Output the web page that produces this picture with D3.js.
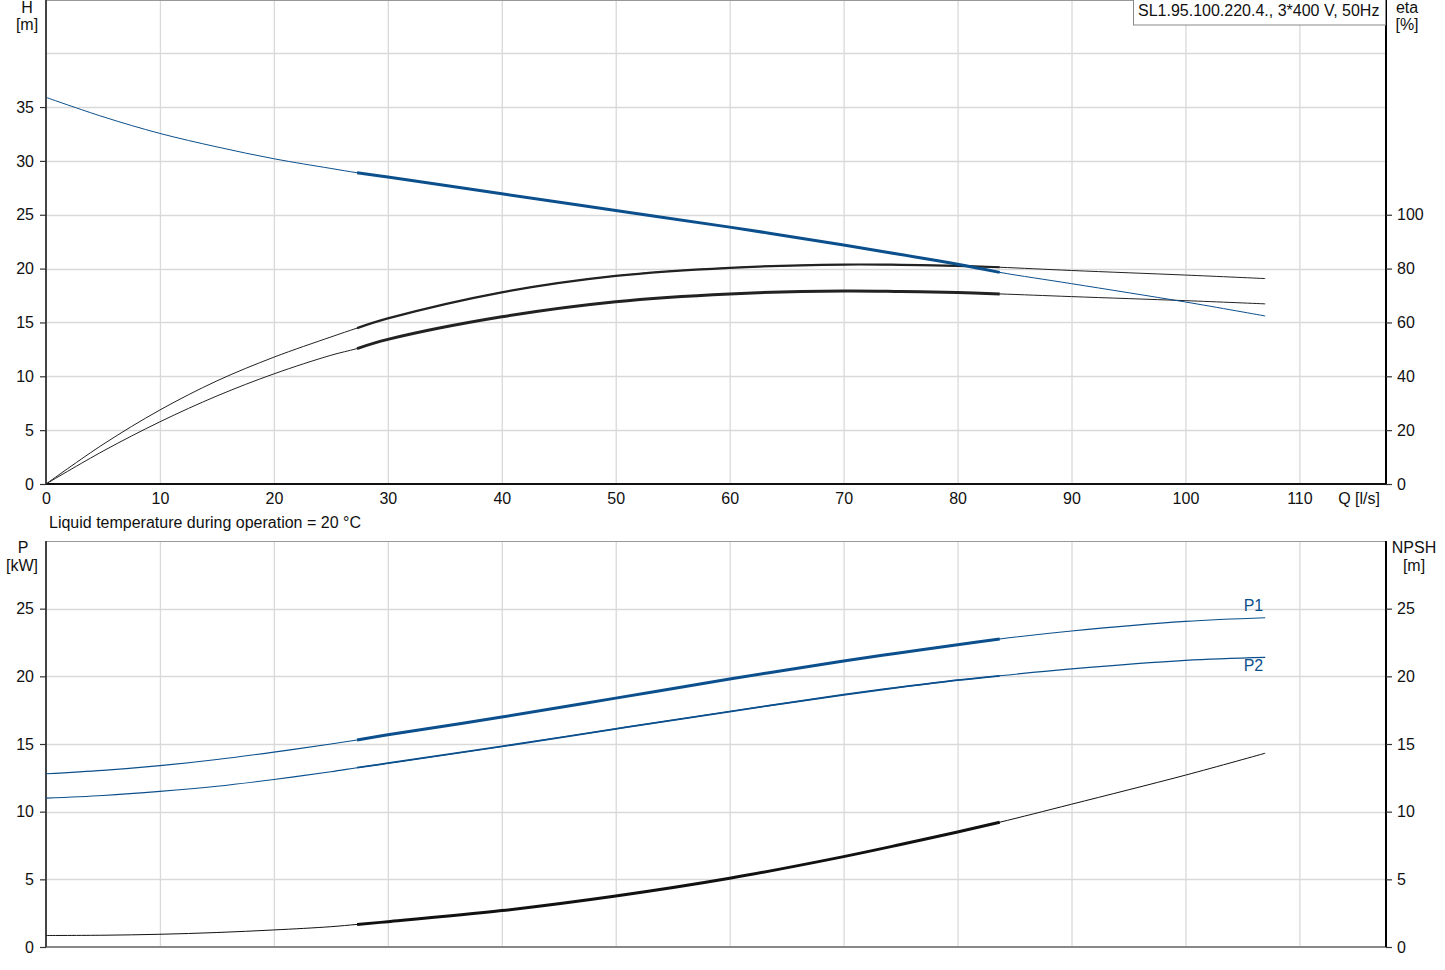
<!DOCTYPE html>
<html><head><meta charset="utf-8">
<script src="https://cdn.jsdelivr.net/npm/d3@7"></script>
<style>
body{margin:0;background:#fff;}
svg{display:block;font-family:"Liberation Sans",Arial,sans-serif;}
</style></head><body>
<svg id="c" width="1445" height="970"></svg>
<script>
// ---- data ----
const flowQ   = [0,5,10,15,20,25,27.3,30,40,50,60,70,75,80,83.7,90,100,107];
const headH   = [35.9,34.1,32.55,31.3,30.2,29.3,28.9,28.5,26.95,25.4,23.85,22.2,21.3,20.4,19.65,18.6,16.9,15.6];
const eta1    = [0,14.7,27.5,38.3,47.1,54.6,57.9,61.5,71.2,77.3,80.3,81.5,81.4,81.0,80.5,79.3,77.6,76.3];
const eta2    = [0,12.2,23.1,32.7,40.9,47.8,50.3,53.7,62.1,67.7,70.6,71.7,71.5,71.1,70.6,69.6,68.1,66.9];
const powerP1 = [12.8,13.05,13.4,13.85,14.4,15.0,15.3,15.68,16.99,18.39,19.8,21.13,21.75,22.34,22.76,23.35,24.06,24.33];
const powerP2 = [11.0,11.2,11.5,11.88,12.38,12.95,13.25,13.58,14.82,16.12,17.4,18.64,19.2,19.72,20.04,20.55,21.18,21.4];
const npsh    = [0.85,0.87,0.94,1.07,1.26,1.5,1.67,1.87,2.69,3.77,5.08,6.68,7.57,8.5,9.22,10.55,12.7,14.32];
const dutyRange = [27.3, 83.7];
const qTicks   = [0,10,20,30,40,50,60,70,80,90,100,110];
const hTicks   = [0,5,10,15,20,25,30,35];
const etaTicks = [0,20,40,60,80,100];
const pTicks   = [0,5,10,15,20,25];
const npshTicks= [0,5,10,15,20,25];
const title = "SL1.95.100.220.4., 3*400 V, 50Hz";
const noteText = "Liquid temperature during operation = 20 °C";

// ---- layout ----
const L = 46, R = 1386;
const top1 = 0, bot1 = 484, top2 = 541, bot2 = 947;
const BLUE = "#0b4f8c", GRID = "#d9d9d9";
const FS = 16;

const svg = d3.select("#c");
const x = d3.scaleLinear().domain([0,117.6]).range([L,R]);
const yH = d3.scaleLinear().domain([0,44.94]).range([bot1,top1]);
const yEta = d3.scaleLinear().domain([0,179.76]).range([bot1,top1]);
const yP = d3.scaleLinear().domain([0,30]).range([bot2,top2]);
const yN = d3.scaleLinear().domain([0,30]).range([bot2,top2]);

function grid(y0,y1,yScale,hv){
  const g = svg.append("g");
  g.selectAll(".v").data(d3.range(10,120,10)).join("line")
    .attr("x1",d=>x(d)+0.5).attr("x2",d=>x(d)+0.5).attr("y1",y0).attr("y2",y1)
    .attr("stroke",GRID).attr("stroke-width",1.3);
  g.selectAll(".h").data(hv).join("line")
    .attr("x1",L).attr("x2",R).attr("y1",d=>Math.round(yScale(d))+0.5).attr("y2",d=>Math.round(yScale(d))+0.5)
    .attr("stroke",GRID).attr("stroke-width",1.3);
}
grid(top1,bot1,yH,[5,10,15,20,25,30,35,40]);
grid(top2,bot2,yP,[5,10,15,20,25]);

// frames
function frame(y0,y1,bottomColor,bottomW){
  svg.append("line").attr("x1",L).attr("x2",R).attr("y1",y0+0.5).attr("y2",y0+0.5).attr("stroke","#999").attr("stroke-width",1);
  svg.append("line").attr("x1",L).attr("x2",R).attr("y1",y1).attr("y2",y1).attr("stroke",bottomColor).attr("stroke-width",bottomW);
  svg.append("line").attr("x1",L).attr("x2",L).attr("y1",y0).attr("y2",y1).attr("stroke","#444").attr("stroke-width",2);
  svg.append("line").attr("x1",R).attr("x2",R).attr("y1",y0).attr("y2",y1).attr("stroke","#000").attr("stroke-width",2);
}
frame(top1,bot1,"#111",2);
frame(top2,bot2,"#888",2);

// axes
function styleAxis(g){
  g.select(".domain").remove();
  g.selectAll(".tick line").attr("stroke","#333").attr("stroke-width",1.2);
  g.selectAll(".tick text").attr("font-size",FS).attr("fill","#111")
   .attr("font-family","'Liberation Sans',Arial,sans-serif");
}
svg.append("g").attr("transform",`translate(${L},0)`)
  .call(d3.axisLeft(yH).tickValues(hTicks).tickSize(6).tickPadding(6).tickFormat(d3.format("d"))).call(styleAxis);
svg.append("g").attr("transform",`translate(${R},0)`)
  .call(d3.axisRight(yEta).tickValues(etaTicks).tickSize(6).tickPadding(5).tickFormat(d3.format("d"))).call(styleAxis);
svg.append("g").attr("transform",`translate(${L},0)`)
  .call(d3.axisLeft(yP).tickValues(pTicks).tickSize(6).tickPadding(6).tickFormat(d3.format("d"))).call(styleAxis);
svg.append("g").attr("transform",`translate(${R},0)`)
  .call(d3.axisRight(yN).tickValues(npshTicks).tickSize(6).tickPadding(5).tickFormat(d3.format("d"))).call(styleAxis);
const xa = svg.append("g").attr("transform",`translate(0,${bot1})`)
  .call(d3.axisBottom(x).tickValues(qTicks).tickSize(0).tickPadding(9).tickFormat(d3.format("d")));
styleAxis(xa);

// texts
function txt(t,xx,yy,anchor,color){
  svg.append("text").attr("x",xx).attr("y",yy).attr("text-anchor",anchor||"start")
    .attr("dominant-baseline","middle").attr("font-size",FS).attr("fill",color||"#111").text(t);
}
txt("H",27,9,"middle"); txt("[m]",27,26,"middle");
txt("eta",1407,9,"middle"); txt("[%]",1407,26,"middle");
txt("P",23,549,"middle"); txt("[kW]",22,567,"middle");
txt("NPSH",1414,549,"middle"); txt("[m]",1414,567,"middle");
txt("Q [l/s]",1380,500,"end");
txt(noteText,49,524,"start");

// curves
function drawCurve(vals,yScale,color,thin,thick){
  const data = flowQ.map((q,i)=>({q,v:vals[i]}));
  const line = d3.line().x(d=>x(d.q)).y(d=>yScale(d.v)).curve(d3.curveCatmullRom.alpha(0.5));
  svg.append("path").attr("d",line(data)).attr("fill","none").attr("stroke",color).attr("stroke-width",thin);
  const duty = data.filter(d=>d.q>=dutyRange[0] && d.q<=dutyRange[1]);
  svg.append("path").attr("d",line(duty)).attr("fill","none").attr("stroke",color).attr("stroke-width",thick);
}
drawCurve(eta1,yEta,"#222",1,2.2);
drawCurve(eta2,yEta,"#222",1,3);
drawCurve(headH,yH,BLUE,1,3);
drawCurve(powerP1,yP,BLUE,1.1,3);
drawCurve(powerP2,yP,BLUE,1.1,1.8);
drawCurve(npsh,yN,"#111",1,3);

// curve labels
txt("P1",x(flowQ[flowQ.length-1])-2,607,"end",BLUE);
txt("P2",x(flowQ[flowQ.length-1])-2,667,"end",BLUE);

// legend box
const lg = svg.append("g");
lg.append("rect").attr("x",1133.5).attr("y",-1).attr("width",252).attr("height",26)
  .attr("fill","#fff").attr("stroke","#888").attr("stroke-width",1);
lg.append("text").attr("x",1138).attr("y",12).attr("dominant-baseline","middle")
  .attr("font-size",FS).attr("fill","#111").text(title);
</script>
</body></html>
